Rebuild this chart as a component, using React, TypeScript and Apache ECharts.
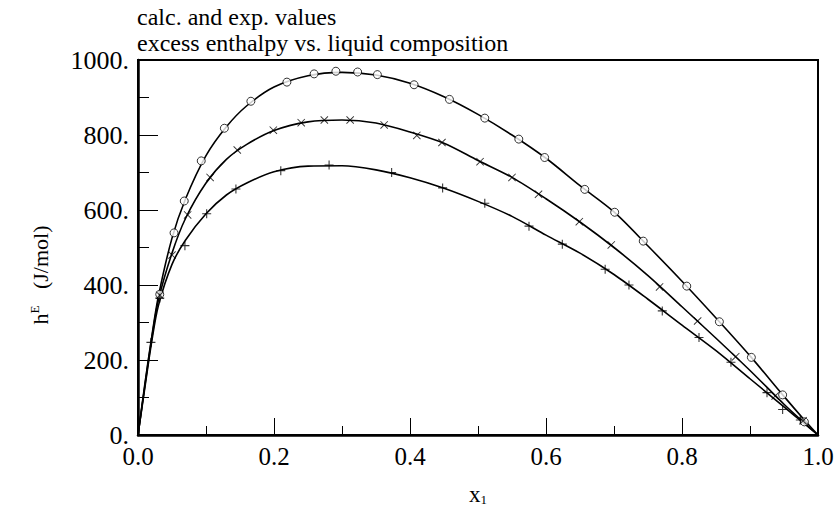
import React, { useEffect, useRef } from "react";
import * as echarts from "echarts";

// calculated curves (x grid and hE values, J/mol)
const CURVE_X = [0, 0.01, 0.02, 0.03, 0.05, 0.07, 0.1, 0.13, 0.16, 0.2, 0.25, 0.3, 0.35, 0.4, 0.45, 0.5, 0.55, 0.6, 0.65, 0.7, 0.75, 0.8, 0.85, 0.9, 0.95, 0.98, 1.0];
const CALC_TOP = [0, 135, 260, 370, 525, 630, 745, 822, 878, 928, 958, 967, 960, 938, 902, 855, 800, 738, 665, 595, 504, 410, 312, 211, 103, 40, 0];
const CALC_MID = [0, 130, 255, 360, 485, 578, 672, 735, 775, 812, 835, 840, 832, 808, 778, 732, 687, 630, 568, 500, 425, 342, 258, 172, 82, 32, 0];
const CALC_LOW = [0, 125, 247, 345, 455, 520, 590, 640, 672, 702, 717, 718, 707, 686, 658, 623, 583, 533, 485, 428, 362, 293, 225, 150, 75, 30, 0];

// experimental points
const EXP_CIRCLE_X = [0.032, 0.053, 0.068, 0.093, 0.127, 0.166, 0.219, 0.259, 0.291, 0.323, 0.352, 0.406, 0.458, 0.51, 0.56, 0.598, 0.657, 0.701, 0.743, 0.807, 0.855, 0.902, 0.948, 0.98];
const EXP_CIRCLE_Y = [375, 539, 624, 731, 818, 890, 941, 963, 970, 968, 961, 934, 895, 845, 789, 740, 655, 594, 517, 397, 302, 207, 107, 35];
const EXP_CROSS_X = [0.032, 0.05, 0.073, 0.106, 0.146, 0.199, 0.24, 0.274, 0.312, 0.362, 0.41, 0.447, 0.503, 0.55, 0.589, 0.649, 0.696, 0.767, 0.823, 0.879, 0.937, 0.978];
const EXP_CROSS_Y = [373, 480, 587, 687, 760, 813, 833, 840, 840, 827, 799, 780, 729, 687, 642, 569, 507, 395, 304, 209, 104, 38];
const EXP_PLUS_X = [0.019, 0.032, 0.069, 0.101, 0.144, 0.21, 0.281, 0.373, 0.448, 0.51, 0.575, 0.624, 0.687, 0.722, 0.771, 0.825, 0.872, 0.925, 0.948, 0.974];
const EXP_PLUS_Y = [247, 365, 505, 590, 656, 705, 720, 700, 659, 618, 557, 509, 442, 400, 331, 260, 194, 113, 68, 40];

const TITLE_LINES = ["calc. and exp. values", "excess enthalpy vs. liquid composition"];

const FONT = "Liberation Serif";

const zip = (xs: number[], ys: number[]) => xs.map((x, i) => [x, ys[i]]);

const PLUS = "path://M0,4.4H10V5.6H0Z M4.4,0H5.6V10H4.4Z";
const CROSS = "path://M0,0.8L0.8,0L10,9.2L9.2,10Z M9.2,0L10,0.8L0.8,10L0,9.2Z";

export default function App() {
  const ref = useRef<HTMLDivElement>(null);
  useEffect(() => {
    if (!ref.current) return;
    const chart = echarts.init(ref.current, null, { renderer: "svg" });
    const lineSeries = (data: number[]) => ({
      type: "line",
      data: zip(CURVE_X, data),
      smooth: 0.3,
      showSymbol: false,
      symbol: "none",
      lineStyle: { color: "#000", width: 1.6 },
      z: 3,
    });
    const minorX = {
      type: "value",
      min: 0,
      max: 1,
      interval: 0.1,
      position: "bottom",
      axisLine: { show: false },
      axisTick: { show: true, inside: true, length: 9, lineStyle: { color: "#000", width: 1 } },
      axisLabel: { show: false },
      splitLine: { show: false },
    };
    const minorY = {
      type: "value",
      min: 0,
      max: 1000,
      interval: 100,
      position: "left",
      axisLine: { show: false },
      axisTick: { show: true, inside: true, length: 11, lineStyle: { color: "#000", width: 1 } },
      axisLabel: { show: false },
      splitLine: { show: false },
    };
    chart.setOption({
      animation: false,
      backgroundColor: "#fff",
      textStyle: { fontFamily: FONT },
      grid: {
        left: 138,
        right: 20,
        top: 60,
        bottom: 74,
        show: true,
        borderColor: "#000",
        borderWidth: 2,
      },
      xAxis: [
        {
          type: "value",
          min: 0,
          max: 1,
          interval: 0.2,
          position: "bottom",
          axisLine: { show: true, lineStyle: { color: "#000", width: 2.5 } },
          axisTick: { show: true, inside: true, length: 17, lineStyle: { color: "#000", width: 1 } },
          splitLine: { show: false },
          axisLabel: {
            color: "#000",
            fontFamily: FONT,
            fontSize: 25,
            margin: 9,
            formatter: (v: number) => v.toFixed(1),
          },
        },
        minorX,
      ],
      yAxis: [
        {
          type: "value",
          min: 0,
          max: 1000,
          interval: 200,
          position: "left",
          axisLine: { show: true, lineStyle: { color: "#000", width: 2.5 } },
          axisTick: { show: true, inside: true, length: 20, lineStyle: { color: "#000", width: 1 } },
          splitLine: { show: false },
          axisLabel: {
            color: "#000",
            fontFamily: FONT,
            fontSize: 26,
            margin: 9,
            formatter: (v: number) => `${v}.`,
          },
        },
        minorY,
      ],
      graphic: [
        {
          type: "text",
          left: 137,
          top: 5,
          style: { text: TITLE_LINES[0], fontFamily: FONT, fontSize: 24, fill: "#000" },
        },
        {
          type: "text",
          left: 137,
          top: 31,
          style: { text: TITLE_LINES[1], fontFamily: FONT, fontSize: 24, fill: "#000" },
        },
        {
          type: "text",
          x: 40,
          y: 275,
          rotation: Math.PI / 2,
          style: {
            text: "{a|h}{s|E}{a|   (J/mol)}",
            align: "center",
            verticalAlign: "middle",
            fill: "#000",
            rich: {
              a: { fontFamily: FONT, fontSize: 22, color: "#000" },
              s: { fontFamily: FONT, fontSize: 13, color: "#000", verticalAlign: "top", padding: [0, 0, 12, 0] },
            },
          },
        },
        {
          type: "text",
          x: 478,
          y: 494,
          style: {
            text: "{a|x}{s|1}",
            align: "center",
            verticalAlign: "middle",
            fill: "#000",
            rich: {
              a: { fontFamily: FONT, fontSize: 23, color: "#000" },
              s: { fontFamily: FONT, fontSize: 13, color: "#000", padding: [10, 0, 0, 0] },
            },
          },
        },
      ],
      series: [
        lineSeries(CALC_TOP),
        lineSeries(CALC_MID),
        lineSeries(CALC_LOW),
        {
          type: "scatter",
          data: zip(EXP_CIRCLE_X, EXP_CIRCLE_Y),
          symbol: "circle",
          symbolSize: 8,
          itemStyle: { color: "#fff", borderColor: "#000", borderWidth: 1 },
          z: 4,
        },
        {
          type: "scatter",
          data: zip(EXP_CROSS_X, EXP_CROSS_Y),
          symbol: CROSS,
          symbolSize: 8,
          itemStyle: { color: "#000" },
          z: 4,
        },
        {
          type: "scatter",
          data: zip(EXP_PLUS_X, EXP_PLUS_Y),
          symbol: PLUS,
          symbolSize: 9,
          itemStyle: { color: "#000" },
          z: 4,
        },
      ],
    });
    return () => chart.dispose();
  }, []);
  return (
    <div
      ref={ref}
      style={{ position: "fixed", left: 0, top: 0, width: 838, height: 509, background: "#fff" }}
    />
  );
}
